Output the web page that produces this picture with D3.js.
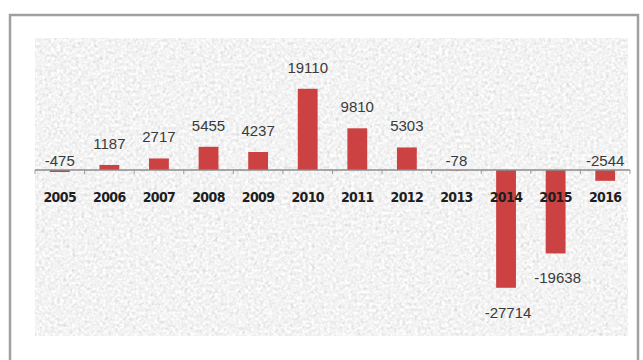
<!DOCTYPE html>
<html>
<head>
<meta charset="utf-8">
<script src="https://cdn.jsdelivr.net/npm/d3@7"></script>
<style>
    body{ margin: 0; background: #fff; }
    .cat-label{ font-family: "DejaVu Sans Condensed", "Liberation Sans Narrow", sans-serif; font-weight: bold; font-size: 14px; letter-spacing: -0.6px; fill: #1e1e1e; text-anchor: middle; }
    .value{ font-family: "Liberation Sans", sans-serif; font-size: 15px; fill: #3a3a3a; text-anchor: middle; }
</style>
</head>
<body>
<svg id="chart" width="643" height="360"></svg>
<script>
//--------DATA--------
const years = ['2005', '2006', '2007', '2008', '2009', '2010', '2011', '2012', '2013', '2014', '2015', '2016'];
const values = [-475, 1187, 2717, 5455, 4237, 19110, 9810, 5303, -78, -27714, -19638, -2544];
const valueDomain = [-40000, 30000];

class barChart{
    constructor(svg){
        this.svg = svg;
    }

    setData(years, values){
        this.data = years.map((y, i) => ({year: y, value: values[i]}));
        return this;
    }

    setPlot(plot){
        this.plot = plot; //plot area box
        return this;
    }

    draw(){
        let p = this.plot;

        let scaleX = d3.scaleBand()
            .domain(this.data.map(d => d.year))
            .range([p.x, p.x + p.w])
            .paddingInner(0.6)
            .paddingOuter(0.3);

        let scaleY = d3.scaleLinear()
            .domain(valueDomain)
            .range([p.y + p.h, p.y]);

        let y0 = scaleY(0);

        this.drawFrame();

        //bars
        this.svg.selectAll('rect.bar')
            .data(this.data)
            .join('rect')
            .attr('class', 'bar')
            .attr('x', d => scaleX(d.year))
            .attr('y', d => Math.min(scaleY(d.value), y0))
            .attr('width', scaleX.bandwidth())
            .attr('height', d => Math.abs(scaleY(d.value) - y0))
            .attr('fill', '#cc4242');

        //axis line + tick marks between categories
        let axisG = this.svg.append('g').attr('class', 'axis-x');
        axisG.append('line')
            .attr('x1', p.x).attr('x2', p.x + p.w)
            .attr('y1', y0).attr('y2', y0)
            .attr('stroke', '#8c8c8c')
            .attr('stroke-width', 1.5);

        let step = scaleX.step();
        let bounds = d3.range(years.length + 1).map(i => p.x + i * step);
        axisG.selectAll('line.tick')
            .data(bounds)
            .join('line')
            .attr('class', 'tick')
            .attr('x1', d => d).attr('x2', d => d)
            .attr('y1', y0).attr('y2', y0 + 4)
            .attr('stroke', '#9a9a9a');

        axisG.selectAll('text.cat-label')
            .data(this.data)
            .join('text')
            .attr('class', 'cat-label')
            .attr('x', d => scaleX(d.year) + scaleX.bandwidth() / 2)
            .attr('y', y0 + 32)
            .text(d => d.year);

        this.drawValues(scaleX, scaleY, y0);
    }

    drawFrame(){
        let p = this.plot;
        let defs = this.svg.append('defs');
        let f = defs.append('filter')
            .attr('id', 'paper')
            .attr('x', 0).attr('y', 0).attr('width', '100%').attr('height', '100%');
        f.append('feTurbulence')
            .attr('type', 'fractalNoise')
            .attr('baseFrequency', 0.33)
            .attr('numOctaves', 3)
            .attr('seed', 7)
            .attr('result', 'n');
        f.append('feColorMatrix')
            .attr('type', 'matrix')
            .attr('values', '0.33 0.33 0.33 0 0  0.33 0.33 0.33 0 0  0.33 0.33 0.33 0 0  0 0 0 0 1');
        let ct = f.append('feComponentTransfer');
        ['R', 'G', 'B'].forEach(c => {
            ct.append('feFunc' + c).attr('type', 'linear').attr('slope', 0.8).attr('intercept', 0.5);
        });

        //outer chart border
        this.svg.append('rect')
            .attr('x', 10).attr('y', 15)
            .attr('width', 628).attr('height', 360)
            .attr('fill', '#fff')
            .attr('stroke', '#a0a0a0')
            .attr('stroke-width', 2.5);

        //textured plot area
        this.svg.append('rect')
            .attr('x', p.x).attr('y', p.y - 4)
            .attr('width', p.w - 2).attr('height', p.h)
            .attr('filter', 'url(#paper)');
    }

    drawValues(scaleX, scaleY, y0){
        this.svg.selectAll('text.value')
            .data(this.data)
            .join('text')
            .attr('class', 'value')
            .attr('x', d => scaleX(d.year) + scaleX.bandwidth() / 2 + (d.value < -5000 ? 2 : 0))
            .attr('y', d => {
                if(d.value >= 0) return scaleY(d.value) - 16;
                if(d.value > -5000) return y0 - 4;     //small negatives sit above the axis
                return scaleY(d.value) + 30;
            })
            .text(d => d.value);
    }
}

new barChart(d3.select('#chart'))
    .setData(years, values)
    .setPlot({x: 35, y: 42.5, w: 595, h: 297.5})
    .draw();
</script>
</body>
</html>
